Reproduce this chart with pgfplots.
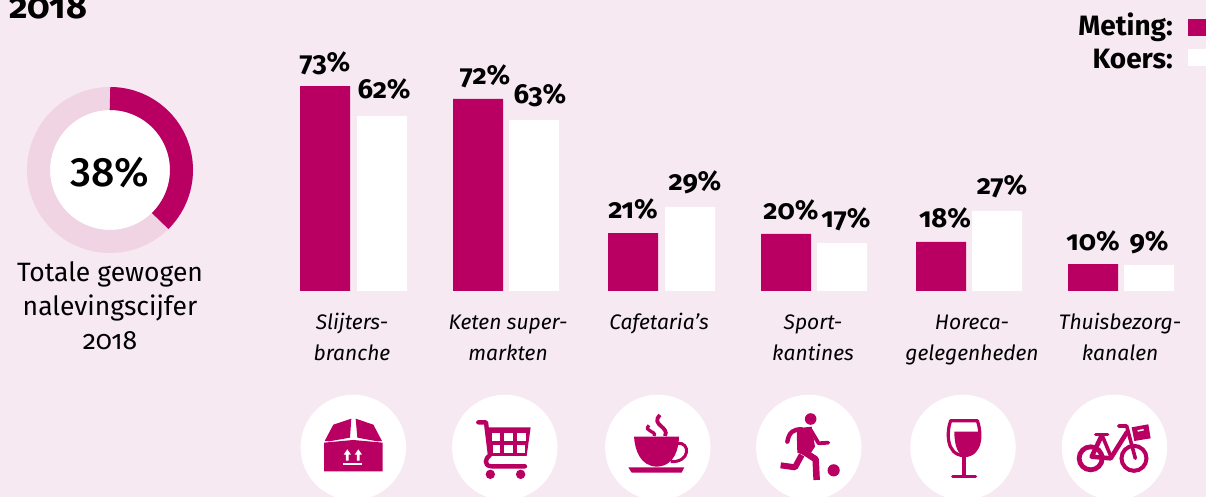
\documentclass[border=0pt]{standalone}
\usepackage{pgfplots}
\pgfplotsset{compat=1.18}
\usepackage{fontspec}
\setmainfont{Fira Sans}[Numbers=OldStyle]
\newfontfamily\lining{Fira Sans Medium}[Numbers=Lining]
\definecolor{bg}{HTML}{F6E9F1}
\definecolor{mag}{HTML}{B90062}
\definecolor{lite}{HTML}{F0D4E3}
\newcommand{\fs}[1]{\fontsize{#1}{#1}\selectfont}
\pgfplotsset{barlabels/.style={
  nodes near coords={\pgfmathprintnumber[assume math mode=true]{\pgfplotspointmeta}\%},
  visualization depends on={\thisrow{dx} \as \dx},
  visualization depends on={\thisrow{dy} \as \dy},
  every node near coord/.append style={anchor=center,xshift=\dx pt,yshift=\dy pt,text=black,inner sep=0pt,
     font=\fs{27.5}\bfseries},
  /pgf/number format/assume math mode=true}}
\begin{document}
\begin{tikzpicture}
\useasboundingbox (0,0) rectangle (1206pt,497pt);
\fill[bg] (0,0) rectangle (1206pt,497pt);
\begin{axis}[at={(0,0)},anchor=south west,scale only axis,width=1206pt,height=497pt,
  xmin=0,xmax=1206,ymin=-73.57,ymax=103.93,hide axis,clip=false,
  ybar,bar width=50,bar shift=0pt,point meta=explicit]
\addplot[fill=mag,draw=none,barlabels] table[x=x,y=h,meta=label] {
x h label dx dy
325 73.2 73 0 23
478 68.6 72 7 23
633 20.7 21 0 24
786 20.4 20 5 24
941 17.5 18 4 24
1093 9.6 10 0 23
};
\addplot[fill=white,draw=none,barlabels] table[x=x,y=h,meta=label] {
x h label dx dy
382 62.5 62 2 27
534 61.1 63 6 25
690 30.0 29 5 25
842 17.1 17 4 24
997 28.6 27 5 25
1149 9.3 9 0 23
};
\end{axis}
\begin{scope}[shift={(0,497pt)},x=1pt,y=-1pt]
\clip (0,0) rectangle (1206,497);
% title
\node[anchor=base west,inner sep=0pt,font=\fs{36}\bfseries] at (9,19) {2018};
% legend
\node[anchor=base east,inner sep=0pt,font=\fs{28}\bfseries] at (1173,36) {Meting:};
\node[anchor=base east,inner sep=0pt,font=\fs{28}\bfseries] at (1173,69) {Koers:};
\fill[mag] (1188,19) rectangle (1206,36);
\fill[white] (1188,49) rectangle (1206,66);
% donut
\fill[white] (110,170) circle[radius=60];
\draw[lite,line width=23] (110,170) circle[radius=71.5];
\draw[mag,line width=23] (110,98.5) arc[start angle=-90,end angle=45.5,radius=71.5];
\node[font=\fs{41}\lining] at (110,173) {38\%};
\node[inner sep=0pt,anchor=base,font=\fs{26.5}] at (110,282) {Totale gewogen};
\node[inner sep=0pt,anchor=base,font=\fs{26.5}] at (110,316) {nalevingscijfer};
\node[inner sep=0pt,anchor=base,font=\fs{26.5}] at (110,350) {2018};
% category labels
\foreach \x/\a/\b in {352/Slijters-/branche,508/Keten super-/markten,659/Cafetaria’s/,813/Sport-/kantines,972/Horeca-/gelegenheden,1120/Thuisbezorg-/kanalen}{
  \node[anchor=base,inner sep=0pt,font=\fs{21}\itshape] at (\x,330) {\a};
  \node[anchor=base,inner sep=0pt,font=\fs{21}\itshape] at (\x,361) {\b};
}
% icon circles
\foreach \x in {353.3,504.8,657.8,808.8,963,1114.5}{\fill[white] (\x,447.4) circle[radius=52.7];}
% box
\begin{scope}[shift={(290,390)},x=0.3333pt,y=-0.3333pt]
\fill[mag] (130,104)--(184,86)--(180,143)--(118,154)--(104,153)--cycle;
\fill[mag] (197,86)--(250,104)--(276,153)--(262,154)--(202,143)--cycle;
\fill[mag] (102,158)--(190,150)--(278,158)--(278,244)--(102,244)--cycle;
\fill[white] (161,194)--(172,178)--(183,194)--(176,194)--(176,212)--(168,212)--(168,194)--cycle;
\fill[white] (194,194)--(205,178)--(216,194)--(209,194)--(209,212)--(201,212)--(201,194)--cycle;
\fill[white] (160,218) rectangle (217,224);
% cart
\draw[mag,line width=4.4pt,line cap=round,line join=round] (565,97)--(588,97)--(600,195)
  .. controls (585,205) and (580,228) .. (605,229)--(705,229);
\fill[mag] (592,112)--(722,112)--(710,198)--(600,198)--cycle;
\foreach \cx/\cxb in {606/629,642/668,681/708}{\fill[white] (\cx,128) rectangle (\cxb,152);}
\foreach \cx/\cxb in {608/629,642/668,681/704}{\fill[white] (\cx,165) rectangle (\cxb,189);}
\fill[mag] (601,253) circle[radius=4.7pt];
\fill[mag] (692,253) circle[radius=4.7pt];
\end{scope}
% cup + player
\begin{scope}[shift={(600,390)},x=0.3333pt,y=-0.3333pt]
\fill[mag] (102,140)--(237,140) .. controls (236,175) and (225,228) .. (170,230)
  .. controls (120,228) and (105,180) .. cycle;
\draw[mag,line width=3pt] (232,160) .. controls (272,155) and (272,218) .. (212,215);
\fill[mag] (85,232)--(253,232)--(245,248)--(95,248)--cycle;
\draw[mag,line width=3.8pt] (180,75) .. controls (150,105) and (210,110) .. (195,138);
\draw[mag,line width=3.2pt] (147,106) .. controls (128,125) and (172,122) .. (162,138);
% player
\fill[mag] (632,87) circle[radius=5.8pt];
\fill[mag] (701,241) circle[radius=6.1pt];
\fill[mag] (590,115)--(635,110)--(645,170)--(625,200)--(592,188)--cycle;
\draw[mag,line width=4.4pt,line join=round,line cap=round] (562,155) .. controls (568,125) and (580,118) .. (605,118);
\draw[mag,line width=3.8pt,line join=round,line cap=round] (632,120)--(656,160)--(685,158);
\draw[mag,line width=6.5pt,line join=round] (612,185)--(647,208)--(650,270);
\draw[mag,line width=6pt,line join=round] (605,195)--(585,232)--(542,226);
\end{scope}
% wine + bike
\begin{scope}[shift={(900,390)},x=0.3333pt,y=-0.3333pt]
\draw[mag,line width=3.2pt,line join=round] (152,92)--(232,92) .. controls (243,120) and (250,195) .. (192,197)
  .. controls (135,195) and (141,120) .. cycle;
\fill[mag] (163,125)--(238,125) .. controls (243,170) and (225,195) .. (192,197)
  .. controls (175,195) and (163,170) .. cycle;
\fill[mag] (185,197) rectangle (199,258);
\draw[mag,line width=3pt,line cap=round] (158,260)--(227,260);
% bike
\draw[mag,line width=4.8pt] (572,205) circle[radius=11.5pt];
\draw[mag,line width=4pt] (702,205) circle[radius=12.5pt];
\draw[mag,line width=4.6pt,line join=round] (606,135)--(575,200)--(632,205)--(682,125);
\draw[mag,line width=3.6pt] (606,135)--(635,205);
\draw[mag,line width=3.4pt,line cap=round] (587,133)--(623,133);
\draw[mag,line width=3.6pt,line cap=round,line join=round] (656,108)--(680,108)--(706,205);
\fill[mag] (695,112)--(745,103)--(752,145)--(703,153)--cycle;
\draw[white,line width=1.5pt] (713,123)--(731,119);
\end{scope}
\end{scope}
\end{tikzpicture}
\end{document}
